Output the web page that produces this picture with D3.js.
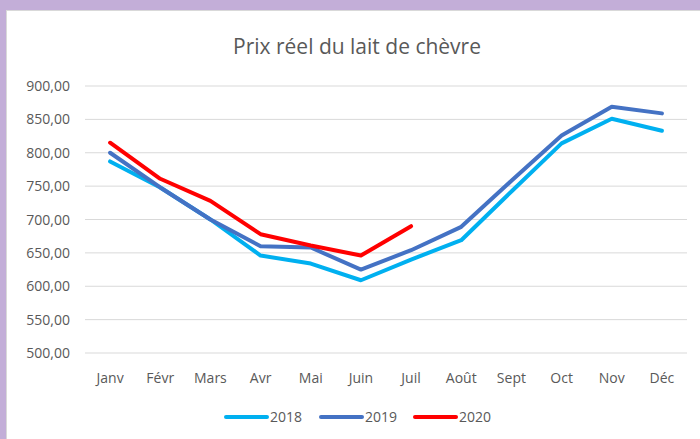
<html>
<head>
<meta charset="utf-8">
<script src="https://d3js.org/d3.v7.min.js"></script>
<style>
  body { margin: 0; background: #fff; }
  text { font-family: "Open Sans", sans-serif; fill: #595959; }
</style>
</head>
<body>
<script>
  const months = ["Janv", "Févr", "Mars", "Avr", "Mai", "Juin", "Juil", "Août", "Sept", "Oct", "Nov", "Déc"];
  const v2018 = [787, 748, 700, 646, 634, 609, 640, 669, 742, 814, 851, 833];
  const v2019 = [800, 748, 700, 660, 658, 625, 654, 689, 758, 826, 869, 859];
  const v2020 = [815, 761, 728, 678, 661, 646, 690];
  const yTicks = [500, 550, 600, 650, 700, 750, 800, 850, 900];

  const series = [
    { name: "2018", values: v2018, color: "#00B0F0" },
    { name: "2019", values: v2019, color: "#4472C4" },
    { name: "2020", values: v2020, color: "#FF0000" }
  ];

  const W = 700, H = 439;
  const svg = d3.select("body").append("svg").attr("width", W).attr("height", H);

  // purple frame
  svg.append("rect").attr("width", W).attr("height", H).attr("fill", "#C3AED8");
  svg.append("rect").attr("x", 6).attr("y", 10).attr("width", W - 6).attr("height", H - 10).attr("fill", "#D9D9D9");
  svg.append("rect").attr("x", 7).attr("y", 11).attr("width", W - 7).attr("height", H - 11).attr("fill", "#fff");

  const x = d3.scaleBand().domain(months).range([85, 687]);
  const y = d3.scaleLinear().domain([500, 900]).range([353, 86]);

  svg.append("text").attr("x", 357).attr("y", 54).attr("text-anchor", "middle")
    .style("font-size", "21px").text("Prix réel du lait de chèvre");

  const grid = svg.append("g");
  grid.selectAll("line").data(yTicks).enter().append("line")
    .attr("x1", 85).attr("x2", 687)
    .attr("y1", d => y(d)).attr("y2", d => y(d))
    .attr("stroke", "#D9D9D9").attr("stroke-width", 1);

  const fmt = d => d3.format(".2f")(d).replace(".", ",");
  svg.selectAll(".ylab").data(yTicks).enter().append("text")
    .attr("x", 70).attr("y", d => y(d) + 5).attr("text-anchor", "end")
    .style("font-size", "14px").text(fmt);

  svg.selectAll(".xlab").data(months).enter().append("text")
    .attr("x", d => x(d) + x.bandwidth() / 2).attr("y", 383).attr("text-anchor", "middle")
    .style("font-size", "14px").text(d => d);

  const line = d3.line()
    .x((d, i) => x(months[i]) + x.bandwidth() / 2)
    .y(d => y(d));

  svg.selectAll(".series").data(series).enter().append("path")
    .attr("d", d => line(d.values))
    .attr("fill", "none")
    .attr("stroke", d => d.color)
    .attr("stroke-width", 4)
    .attr("stroke-linejoin", "round")
    .attr("stroke-linecap", "round");

  const legX = [226, 321, 415];
  const leg = svg.selectAll(".leg").data(series).enter().append("g")
    .attr("transform", (d, i) => `translate(${legX[i]},417)`);
  leg.append("line").attr("x1", 0).attr("x2", 41)
    .attr("stroke", d => d.color).attr("stroke-width", 4).attr("stroke-linecap", "round");
  leg.append("text").attr("x", 44).attr("y", 5).style("font-size", "14px").text(d => d.name);
</script>
</body>
</html>
